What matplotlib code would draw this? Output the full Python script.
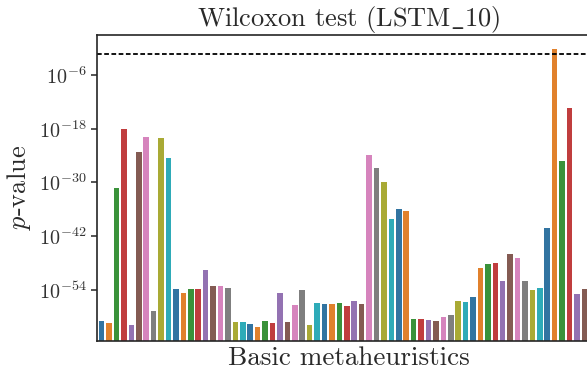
import matplotlib
matplotlib.use("Agg")
import matplotlib.pyplot as plt
import matplotlib.ticker as mticker

# p-values, one bar per metaheuristic (left to right)
p_values = [
    1.3e-61, 5.0e-62, 6.3e-32, 7.9e-19, 1.6e-62, 5.0e-24, 1.6e-20, 2.0e-59,
    7.9e-21, 3.2e-25, 1.6e-54, 2.0e-55, 1.6e-54, 1.6e-54, 3.2e-50, 7.9e-54,
    7.9e-54, 3.2e-54, 7.9e-62, 6.3e-62, 2.5e-62, 5.0e-63, 1.3e-61, 5.0e-62,
    2.0e-55, 7.9e-62, 4.0e-58, 7.9e-55, 1.6e-62, 1.0e-57, 6.3e-58, 6.3e-58,
    1.0e-57, 2.5e-58, 3.2e-57, 6.3e-58, 1.3e-24, 1.6e-27, 1.0e-30, 6.3e-39,
    1.0e-36, 4.0e-37, 3.2e-61, 3.2e-61, 2.0e-61, 1.3e-61, 7.9e-61, 2.5e-60,
    4.0e-57, 2.5e-57, 3.2e-56, 7.9e-50, 5.0e-49, 1.3e-48, 7.9e-53, 1.0e-46,
    1.3e-47, 7.9e-53, 7.9e-55, 2.5e-54, 6.3e-41, 0.63, 6.3e-26, 5.0e-14,
    1.3e-55, 1.6e-54,
]
alpha = 0.05
ytick_values = [1e-6, 1e-18, 1e-30, 1e-42, 1e-54]

# seaborn-style desaturated tab10
palette = ["#3274a1", "#e1812c", "#3a923a", "#c03d3e", "#9372b2",
           "#845b53", "#d684bd", "#7f7f7f", "#a9aa35", "#2eabb8"]

plt.rcParams["font.family"] = "serif"
plt.rcParams["font.serif"] = ["cmr10"]
plt.rcParams["mathtext.fontset"] = "cm"
plt.rcParams["axes.formatter.use_mathtext"] = True

fig = plt.figure(figsize=(5.87, 3.75), dpi=100)
ax = fig.add_axes([97 / 587, 1 - 340.5 / 375, 503 / 587, 306 / 375])

x = list(range(len(p_values)))
colors = [palette[i % len(palette)] for i in x]
ax.bar(x, p_values, width=0.75, color=colors, bottom=1e-70)
ax.axhline(alpha, color="black", linestyle=(0, (2.6, 1.4)), linewidth=1.3)

ax.set_yscale("log")
ax.set_ylim(10 ** -65.3, 10 ** 3.05)
ax.set_xlim(-0.63, 67.1)
ax.yaxis.set_major_locator(mticker.FixedLocator(ytick_values))
ax.yaxis.set_minor_locator(mticker.NullLocator())
ax.set_xticks([])

for side in ["left", "bottom", "top", "right"]:
    ax.spines[side].set_color("#262626")
    ax.spines[side].set_linewidth(1.2)
ax.tick_params(axis="y", direction="out", length=4, width=1.1,
               color="#262626", labelsize=14.5, labelcolor="#333333")

ax.set_title(r"Wilcoxon test (LSTM$\_$10)", fontsize=19, color="#2a2a2a")
ax.set_xlabel("Basic metaheuristics", fontsize=19.5, color="#2a2a2a")
ax.set_ylabel("$p$-value", fontsize=19, color="#2a2a2a")

fig.savefig("out.png", dpi=100)
